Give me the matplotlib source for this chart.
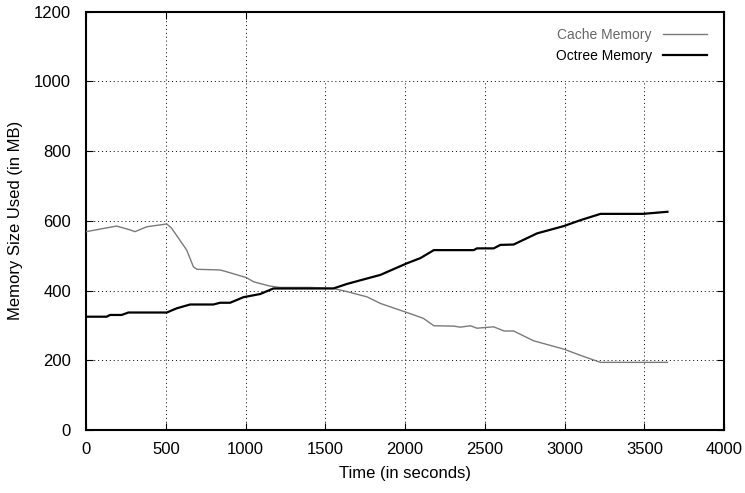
import matplotlib.pyplot as plt
from matplotlib.patches import Rectangle

plt.rcParams['font.family'] = ['Liberation Sans', 'DejaVu Sans']

# Cache memory (MB) over time (s)
cache_t = [0, 190, 275, 305, 380, 505, 535, 630, 672, 693, 840, 880, 1005, 1050,
           1150, 1215, 1400, 1550, 1635, 1760, 1845, 2055, 2115, 2180, 2305, 2345,
           2410, 2450, 2555, 2620, 2680, 2805, 2995, 3100, 3225, 3645]
cache_mb = [569, 585, 574, 569, 583, 591, 579, 516, 468, 461, 459, 454, 437, 425,
            413, 409, 409, 406, 397, 382, 363, 330, 320, 299, 298, 295,
            299, 292, 296, 284, 284, 256, 232, 214, 194, 194]

# Octree memory (MB) over time (s)
octree_t = [0, 128, 149, 222, 264, 505, 567, 651, 797, 839, 902, 986, 1090, 1174,
            1550, 1635, 1845, 2010, 2095, 2180, 2430, 2450, 2555, 2597, 2680, 2827,
            2995, 3100, 3225, 3490, 3645]
octree_mb = [325, 325, 330, 330, 337, 337, 349, 360, 360, 365, 365, 381, 390, 406,
             406, 419, 445, 478, 493, 516, 516, 521, 521, 531, 532, 564,
             585, 602, 620, 620, 626]

fig = plt.figure(figsize=(7.45, 4.93), dpi=100)
ax = fig.add_axes([0.1158, 0.1278, 0.8561, 0.8485])

ax.plot(cache_t, cache_mb, color='#7a7a7a', linewidth=1.0, label='Cache Memory', zorder=3)
ax.plot(octree_t, octree_mb, color='black', linewidth=1.6, label='Octree Memory', zorder=3)

ax.set_xlim(0, 4000)
ax.set_ylim(0, 1200)
ax.set_xticks(range(0, 4001, 500))
ax.set_yticks(range(0, 1201, 200))

ax.set_axisbelow(True)
ax.grid(True, linestyle=(0, (1, 3)), color='black', linewidth=0.7)
# key area covers the grid like in gnuplot
ax.add_patch(Rectangle((1480, 1000), 2520, 200, facecolor='white', edgecolor='none', zorder=1))

ax.tick_params(direction='in', top=True, right=True, length=5, labelsize=12)
ax.tick_params(axis='x', pad=9)
ax.tick_params(axis='y', pad=11)
for s in ax.spines.values():
    s.set_linewidth(1.5)

ax.set_xlabel('Time (in seconds)', fontsize=12, labelpad=6)
ax.set_ylabel('Memory Size Used (in MB)', fontsize=12, labelpad=8)

leg = ax.legend(loc='upper right', frameon=False, markerfirst=False, fontsize=10,
                handlelength=3.2, borderaxespad=0.8, labelspacing=0.5)
leg.get_texts()[0].set_color('#666666')

fig.savefig('out.png', dpi=100)
